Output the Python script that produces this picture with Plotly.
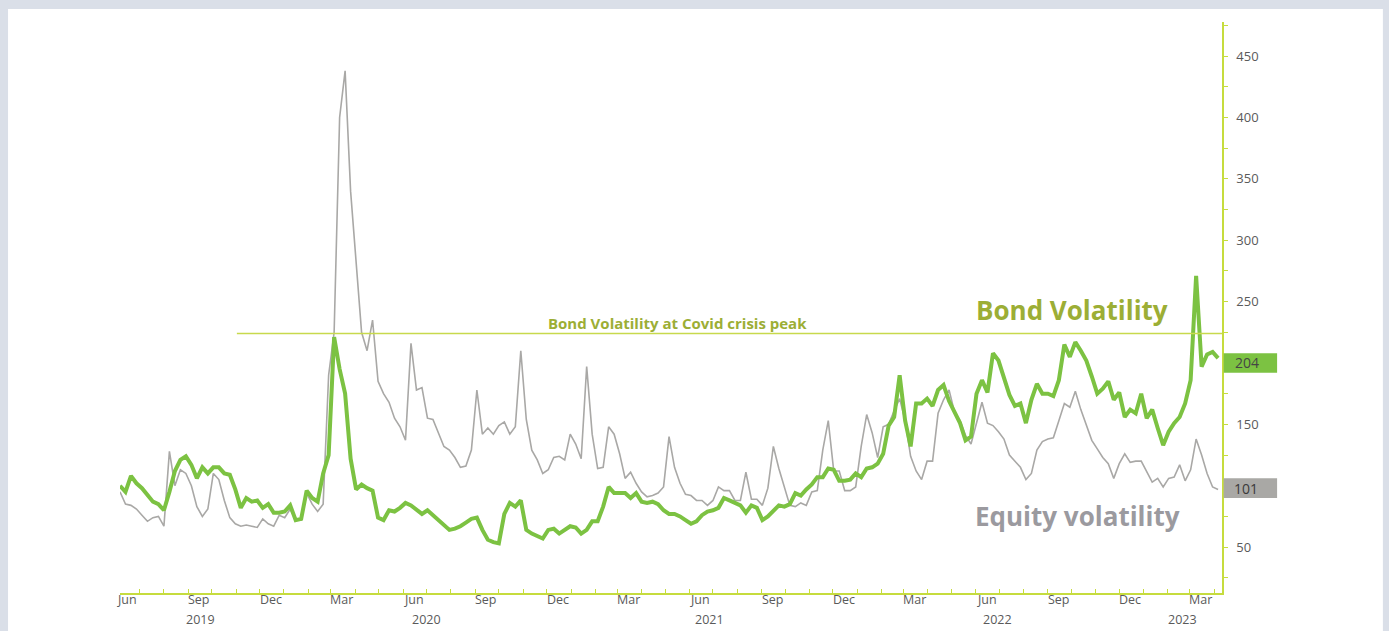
import plotly.graph_objects as go
import pandas as pd

# ---------------- data ----------------
dates = pd.date_range("2019-06-06", periods=201, freq="7D")

bond = [
    100, 95, 108, 102, 98, 93, 87, 85, 80, 95,
    112, 121, 124, 117, 106, 115, 110, 115, 115, 110,
    109, 97, 82, 90, 87, 88, 82, 85, 78, 78,
    79, 84, 72, 73, 96, 90, 87, 110, 125, 221,
    195, 175, 122, 97, 101, 98, 96, 74, 72, 80,
    79, 82, 86, 84, 80, 77, 80, 76, 73, 68,
    64, 65, 67, 70, 73, 74, 64, 56, 54, 53,
    77, 86, 83, 88, 64, 61, 59, 57, 64, 65,
    61, 64, 67, 66, 61, 64, 71, 71, 83, 99,
    94, 94, 94, 90, 94, 87, 86, 87, 85, 80,
    77, 77, 75, 72, 69, 71, 76, 79, 80, 82,
    90, 88, 86, 84, 78, 84, 82, 72, 75, 80,
    84, 83, 85, 94, 92, 97, 101, 107, 107, 114,
    113, 104, 104, 105, 110, 107, 114, 115, 118, 126,
    149, 156, 190, 153, 132, 167, 167, 171, 165, 178,
    182, 169, 160, 151, 137, 140, 175, 186, 176, 208,
    202, 189, 174, 165, 167, 151, 170, 183, 175, 175,
    173, 186, 215, 205, 217, 210, 202, 189, 175, 179,
    185, 170, 176, 156, 162, 159, 175, 155, 162, 147,
    133, 144, 151, 156, 167, 186, 271, 197, 207, 209,
    204,
]

equity = [
    95, 85, 84, 81, 76, 71, 74, 75, 67, 128,
    100, 113, 110, 100, 83, 75, 81, 110, 105, 88,
    74, 69, 67, 68, 67, 66, 73, 69, 67, 76,
    74, 81, 72, 72, 94, 85, 79, 85, 190, 225,
    400, 438, 340, 285, 225, 210, 235, 185, 175, 168,
    155, 148, 137, 216, 178, 180, 155, 154, 143, 132,
    129, 123, 115, 116, 129, 178, 142, 147, 142, 149,
    152, 142, 148, 210, 154, 129, 121, 110, 113, 123,
    124, 121, 142, 134, 122, 197, 142, 114, 115, 148,
    142, 126, 106, 111, 102, 95, 91, 92, 94, 99,
    140, 115, 102, 93, 92, 88, 88, 84, 88, 99,
    96, 96, 88, 88, 111, 89, 89, 84, 98, 132,
    114, 100, 84, 83, 86, 84, 95, 96, 129, 153,
    112, 112, 96, 96, 99, 132, 158, 143, 123, 148,
    150, 161, 171, 153, 124, 112, 105, 120, 120, 159,
    170, 178, 160, 153, 141, 134, 151, 168, 151, 149,
    144, 138, 125, 120, 115, 105, 110, 129, 136, 138,
    139, 153, 167, 164, 177, 162, 149, 137, 130, 123,
    118, 106, 118, 126, 119, 120, 120, 111, 103, 106,
    99, 106, 107, 117, 104, 113, 138, 125, 110, 99,
    97,
]

y_tick_values = list(range(25, 476, 25))
y_tick_labels = {50: "50", 150: "150", 250: "250", 300: "300",
                 350: "350", 400: "400", 450: "450"}
covid_peak = 224
covid_line_start = "2019-11-02"
bond_badge = ("204", 200)
equity_badge = ("101", 98)
quarter_labels = ["Jun", "Sep", "Dec", "Mar"] * 4
quarter_dates = pd.date_range("2019-06-01", periods=16, freq="3MS") + pd.Timedelta(days=14)
year_labels = ["2019", "2020", "2021", "2022", "2023"]
year_dates = ["2019-09-17", "2020-07-01", "2021-06-27", "2022-06-29", "2023-02-20"]

x_range = ["2019-06-06", "2023-04-11"]
y_range = [12.6, 477.8]

# ---------------- styles ----------------
GREEN = "#7cc242"
GREY = "#a9a8a6"
OLIVE = "#9cae35"
AXIS = "#c6dc3e"
FONT = "Open Sans"

fig = go.Figure()
fig.add_trace(go.Scatter(x=dates, y=equity, mode="lines",
                         line=dict(color=GREY, width=1.6), name="Equity volatility"))
fig.add_trace(go.Scatter(x=dates, y=bond, mode="lines",
                         line=dict(color=GREEN, width=4), name="Bond Volatility"))

shapes = [
    # white card
    dict(type="rect", xref="paper", yref="paper", x0=-0.1016, x1=1.146, y0=-0.12, y1=1.0228,
         fillcolor="white", line=dict(width=0), layer="below"),
    # covid peak line
    dict(type="line", xref="x", yref="y", x0=covid_line_start, x1=x_range[1],
         y0=covid_peak, y1=covid_peak, line=dict(color="#c8d94c", width=1.5)),
    # badges
    dict(type="rect", xref="paper", yref="y", x0=1.0015, x1=1.05,
         y0=bond_badge[1] - 8, y1=bond_badge[1] + 8, fillcolor=GREEN, line=dict(width=0)),
    dict(type="rect", xref="paper", yref="y", x0=1.0015, x1=1.05,
         y0=equity_badge[1] - 8, y1=equity_badge[1] + 8, fillcolor="#a9a8a5", line=dict(width=0)),
]

annotations = []
for d, t in zip(quarter_dates, quarter_labels):
    annotations.append(dict(x=d, y=-0.011, xref="x", yref="paper", text=t, showarrow=False,
                            font=dict(family=FONT, size=12.5, color="#5a5a5a"),
                            xanchor="center", yanchor="middle"))
for d, t in zip(year_dates, year_labels):
    annotations.append(dict(x=d, y=-0.046, xref="x", yref="paper", text=t, showarrow=False,
                            font=dict(family=FONT, size=12.5, color="#5a5a5a"),
                            xanchor="center", yanchor="middle"))
annotations += [
    dict(x=0.506, y=232.6, xref="paper", yref="y", text="<b>Bond Volatility at Covid crisis peak</b>",
         showarrow=False, font=dict(family=FONT, size=15, color=OLIVE),
         xanchor="center", yanchor="middle"),
    dict(x=0.864, y=243, xref="paper", yref="y", text="<b>Bond Volatility</b>",
         showarrow=False, font=dict(family=FONT, size=26, color=OLIVE),
         xanchor="center", yanchor="middle"),
    dict(x=0.869, y=75.4, xref="paper", yref="y", text="<b>Equity volatility</b>",
         showarrow=False, font=dict(family=FONT, size=26, color="#9b9a9f"),
         xanchor="center", yanchor="middle"),
    dict(x=1.0225, y=bond_badge[1], xref="paper", yref="y", text=bond_badge[0],
         showarrow=False, font=dict(family=FONT, size=14, color="#454545"),
         xanchor="center", yanchor="middle"),
    dict(x=1.0215, y=equity_badge[1], xref="paper", yref="y", text=equity_badge[0],
         showarrow=False, font=dict(family=FONT, size=14, color="#3a3a3a"),
         xanchor="center", yanchor="middle"),
]

fig.update_layout(
    width=1389, height=631,
    margin=dict(l=120, r=167, t=22, b=38),
    paper_bgcolor="#dadfe8",
    plot_bgcolor="rgba(0,0,0,0)",
    showlegend=False,
    hovermode=False,
    shapes=shapes,
    annotations=annotations,
    xaxis=dict(range=x_range, showgrid=False, zeroline=False, showline=True,
               linecolor=AXIS, linewidth=1.5, ticks="inside", ticklen=4, tickcolor=AXIS,
               tickwidth=1.2, dtick="M1", tick0="2019-06-01", showticklabels=False),
    yaxis=dict(range=y_range, side="right", showgrid=False, zeroline=False, showline=True,
               linecolor=AXIS, linewidth=1.5, ticks="outside", ticklen=4, tickcolor=AXIS,
               tickwidth=1.2, tickvals=y_tick_values,
               ticktext=[y_tick_labels.get(v, "") for v in y_tick_values],
               tickfont=dict(family=FONT, size=13, color="#5a5a5a"),
               ticklabelstandoff=6),
)

fig.write_html("out.html")
